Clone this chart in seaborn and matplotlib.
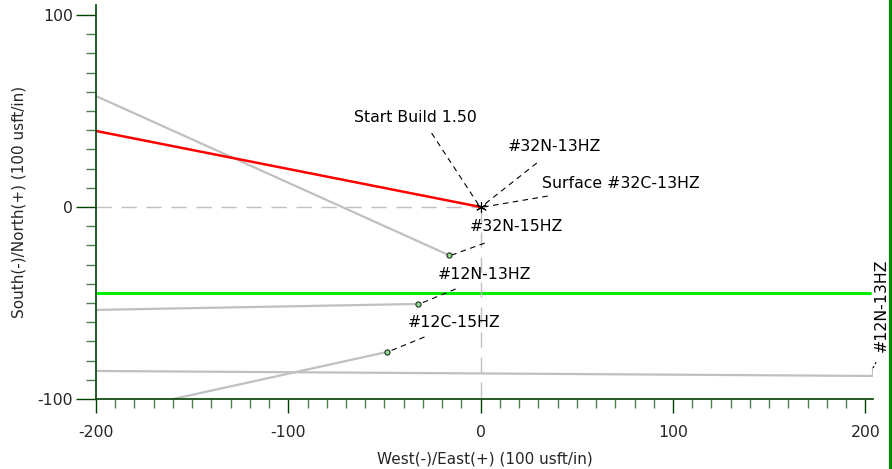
import pandas as pd
import seaborn as sns
from matplotlib import pyplot as plt
from matplotlib.lines import Line2D
from matplotlib.ticker import MultipleLocator

# well paths (100 usft/in)
plan_x = [-200, 0]
plan_y = [39.6, 0]

w32n15_x = [-200, -16.7]
w32n15_y = [57.8, -25.0]

w12n13_x = [-200, -32.6]
w12n13_y = [-53.6, -50.5]

w12c15_x = [-159.9, -48.6]
w12c15_y = [-100, -75.5]

w12n13r_x = [-200, 204, 204]
w12n13r_y = [-85.4, -88.0, -84.0]

green_x = [-200, 202.6]
green_y = [-44.6, -44.6]

# labels: text, text pos, leader start, leader end
labels = ["Start Build 1.50", "#32N-13HZ", "Surface #32C-13HZ",
          "#32N-15HZ", "#12N-13HZ", "#12C-15HZ"]
label_x = [-33.9, 38.5, 72.9, 18.7, 2.1, -14.0]
label_y = [46.4, 31.3, 12.0, -10.4, -34.9, -60.4]
lead_x0 = [-25.5, 29.2, 34.9, 2.1, -13.0, -29.2]
lead_y0 = [38.5, 22.9, 5.7, -18.8, -42.7, -67.7]
lead_x1 = [-1.0, 1.5, 1.5, -15.0, -31.8, -48.4]
lead_y1 = [1.0, 1.0, 0.0, -25.0, -50.5, -75.5]

end_x = [-16.7, -32.6, -48.6]
end_y = [-25.0, -50.5, -75.5]

sns.set_style("white")
plt.rcParams["font.family"] = ["DejaVu Sans"]
plt.rcParams["axes.unicode_minus"] = False
plt.rcParams["text.color"] = "black"

fig = plt.figure(figsize=(8.92, 4.69), dpi=100)
ax = fig.add_axes([96 / 892, 70 / 469, 777 / 892, 394 / 469])

gray = "#c0c0c0"
for xs, ys in [(w32n15_x, w32n15_y), (w12n13_x, w12n13_y),
               (w12c15_x, w12c15_y), (w12n13r_x, w12n13r_y)]:
    sns.lineplot(x=xs, y=ys, sort=False, color=gray, lw=1.6, ax=ax,
                 estimator=None)

sns.lineplot(x=green_x, y=green_y, sort=False, color="#00ee00", lw=2.2,
             ax=ax, estimator=None)

# reference lines through the surface location
ax.plot([-200, 0], [0, 0], color=gray, lw=1, ls=(0, (11, 7)))
ax.plot([0, 0], [0, -100], color=gray, lw=1, ls=(0, (11, 7)))

sns.lineplot(x=plan_x, y=plan_y, sort=False, color="#ff0000", lw=1.8,
             ax=ax, estimator=None)

sns.scatterplot(x=end_x, y=end_y, s=14, color="#8fd88f",
                edgecolor="#203020", linewidth=0.8, ax=ax, zorder=5)
ax.scatter([0], [0], marker=(6, 2, 0), s=50, color="black", lw=0.8,
           zorder=6)

for t, tx, ty, x0, y0, x1, y1 in zip(labels, label_x, label_y,
                                      lead_x0, lead_y0, lead_x1, lead_y1):
    ax.text(tx, ty, t, ha="center", va="center", fontsize=11.3)
    ax.plot([x0, x1], [y0, y1], color="black", lw=0.8, ls=(0, (5, 4)))

ax.text(208.2, -51, "#12N-13HZ", rotation=90, ha="center", va="center",
        fontsize=11.3, clip_on=False)
ax.plot([204, 205.7], [-83.9, -80.7], color="black", lw=0.8,
        ls=(0, (2, 2)), clip_on=False)

ax.set_xlim(-200, 204)
ax.set_ylim(-100, 105.2)
ax.xaxis.set_major_locator(MultipleLocator(100))
ax.xaxis.set_minor_locator(MultipleLocator(10))
ax.yaxis.set_major_locator(MultipleLocator(100))
ax.yaxis.set_minor_locator(MultipleLocator(10))

dark = "#004000"
for s in ["top", "right"]:
    ax.spines[s].set_visible(False)
for s in ["left", "bottom"]:
    ax.spines[s].set_color(dark)
    ax.spines[s].set_linewidth(1.2)

ax.tick_params(axis="x", which="major", direction="out", length=10,
               width=1, color=dark, labelsize=11.3, pad=9, bottom=True)
ax.tick_params(axis="x", which="minor", direction="out", length=6.5,
               width=1, color="#4f7f4f", bottom=True)
ax.tick_params(axis="y", which="major", direction="out", length=14.4,
               width=1, color=dark, labelsize=11.3, pad=2, left=True)
ax.tick_params(axis="y", which="minor", direction="out", length=7.2,
               width=1, color="#4f7f4f", left=True)

ax.set_xlabel("West(-)/East(+) (100 usft/in)", fontsize=11, labelpad=8)
ax.set_ylabel("South(-)/North(+) (100 usft/in)", fontsize=11, labelpad=8)

fig.add_artist(Line2D([890.5 / 892, 890.5 / 892], [0, 1], color="#008a00",
                      lw=3))

fig.savefig("out.png", dpi=100, facecolor="white")
